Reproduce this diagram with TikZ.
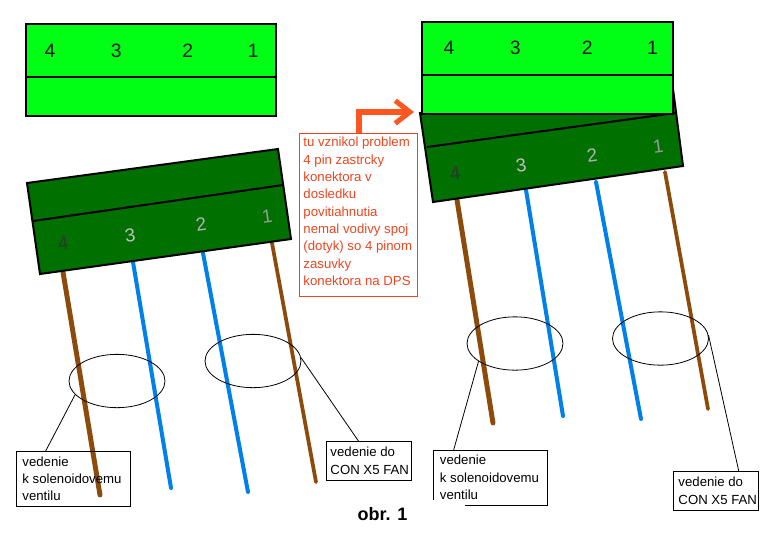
\documentclass[tikz,border=0pt]{standalone}
\usepackage{fontspec}
\usepackage{xcolor}
\usetikzlibrary{positioning,shapes.geometric,arrows.meta}
\setmainfont{Liberation Sans}
\definecolor{lightgrn}{RGB}{0,255,20}
\definecolor{darkgrn}{RGB}{0,112,0}
\definecolor{wirebrown}{RGB}{140,75,10}
\definecolor{wireblue}{RGB}{0,128,235}
\definecolor{noteorange}{RGB}{255,85,30}
\definecolor{notered}{RGB}{235,70,30}
\begin{document}
\begin{tikzpicture}[
x=0.75pt, y=-0.75pt,
every node/.style={font=\fontsize{9.9pt}{13pt}\selectfont},
body/.style={draw, line width=1.5pt},
pinup/.style={font=\fontsize{14.5pt}{14pt}\selectfont, text=black!90},
pindown/.style={font=\fontsize{14pt}{14pt}\selectfont, rotate=8},
brownwire/.style={draw=wirebrown, line cap=round},
bluewire/.style={draw=wireblue, line cap=round, line width=3pt},
loop/.style={draw, ellipse, minimum width=72pt, minimum height=40pt, inner sep=0pt, line width=0.6pt},
callout/.style={draw, align=left, inner sep=0pt, line width=0.7pt},
note/.style={draw=notered, text=notered, align=left, inner sep=0pt, line width=0.7pt}
]
\useasboundingbox (0,0) rectangle (770,533);
% left connector
\draw[brownwire, line width=3.7pt] (63,272) -- (100,495);
\draw[bluewire] (133,262) -- (171,488);
\draw[bluewire] (203,253) -- (248,492);
\draw[brownwire, line width=2.8pt] (272,243) -- (316,482);
\draw[body, fill=darkgrn] (27,183) -- (278,149) -- (291,239) -- (40,274) -- cycle;
\draw[body] (33,221) -- (283,185);
\node[pindown, text=black!80] (lpinD) at (63,243) {4};
\node[pindown, text=black!25] (lpinC) at (130,235) {3};
\node[pindown, text=black!30] (lpinB) at (201,224) {2};
\node[pindown, text=black!40] (lpinA) at (267,216) {1};
% left plug
\node[body, fill=lightgrn, minimum width=187.5pt, minimum height=69pt, anchor=north west] (lplug) at (25,23) {};
\draw[body] (25,77) -- (275,77);
\node[pinup] (ltopD) at (50,51) {4};
\node[pinup, right=34.5pt of ltopD] (ltopC) {3};
\node[pinup, right=38.5pt of ltopC] (ltopB) {2};
\node[pinup, right=34pt of ltopB] (ltopA) {1};
% right connector
\draw[brownwire, line width=3.7pt] (457,200) -- (493,423);
\draw[bluewire] (526,190) -- (563,416);
\draw[bluewire] (596,182) -- (641,419);
\draw[brownwire, line width=2.8pt] (665,172) -- (708,409);
\draw[body, fill=darkgrn] (420,113) -- (673,89) -- (683,166) -- (433,202) -- cycle;
\draw[body] (427,147) -- (675,113);
\node[pindown, text=black!80] (rpinD) at (455,173) {4};
\node[pindown, text=black!25] (rpinC) at (521,165) {3};
\node[pindown, text=black!30] (rpinB) at (592,155) {2};
\node[pindown, text=black!40] (rpinA) at (658,146) {1};
% right plug
\node[body, fill=lightgrn, minimum width=188.25pt, minimum height=69pt, anchor=north west] (rplug) at (421,21) {};
\draw[body] (421,75) -- (672,75);
\node[pinup] (rtopD) at (449,48) {4};
\node[pinup, right=34.5pt of rtopD] (rtopC) {3};
\node[pinup, right=39pt of rtopC] (rtopB) {2};
\node[pinup, right=33.75pt of rtopB] (rtopA) {1};
% note and arrow
\node[note, anchor=north west] (problem) at (299,133) {\hspace*{3pt}\parbox[c][122pt][t]{85.5pt}{\vspace*{2.75pt}tu vznikol problem\\4 pin zastrcky\\konektora v\\dosledku\\povitiahnutia\\nemal vodivy spoj\\(dotyk) so 4 pinom\\zasuvky\\konektora na DPS}};
\coordinate (bend) at (359,112);
\coordinate (tip) at (414,112);
\draw[noteorange, line width=3.8pt, -{Straight Barb[length=11pt, width=17pt, line width=3.8pt]}] (bend |- problem.north) -- (bend) -- (tip);
% circled wires
\node[loop] (lloopA) at (117,381) {};
\node[loop] (lloopB) at (253,361) {};
\node[loop] (rloopA) at (515,343.5) {};
\node[loop] (rloopB) at (660.5,338.5) {};
% labels
\node[callout, minimum height=41pt, anchor=north west] (lsol) at (16,451) {\hspace*{4.5pt}\parbox{81pt}{vedenie\\k solenoidovemu\\ventilu}};
\node[callout, minimum height=29pt, anchor=north west] (lfan) at (326,441) {\hspace*{3pt}\parbox{60.75pt}{vedenie do\\CON X5 FAN}};
\node[inner sep=0pt, align=left, minimum height=41pt, anchor=north west] (rsol) at (433,450) {\hspace*{5pt}\parbox{80.5pt}{vedenie\\k solenoidovemu\\ventilu}};
\draw[line width=0.7pt] ([yshift=3.75pt]rsol.south west) -- (rsol.north west) -- (rsol.north east) -- (rsol.south east) -- ([xshift=24pt]rsol.south west);
\node[callout, minimum height=29pt, anchor=north west] (rfan) at (673,471) {\hspace*{3.75pt}\parbox{60pt}{vedenie do\\CON X5 FAN}};
\node[font=\bfseries\fontsize{13.5pt}{14pt}\selectfont] (figno) at (382.5,514) {obr. 1};
\draw[line width=0.6pt] (lloopA.198) -- (lsol.135);
\draw[line width=0.6pt] (lloopB.4) -- (lfan.118);
\draw[line width=0.6pt] (rloopA.206) -- (rsol.143);
\draw[line width=0.6pt] (rloopB.4) -- (rfan.41);
\end{tikzpicture}
\end{document}
